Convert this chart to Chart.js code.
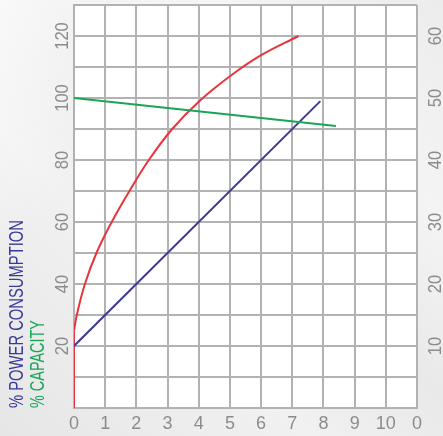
<!DOCTYPE html>
<html><head><meta charset="utf-8">
<script src="https://cdn.jsdelivr.net/npm/chart.js@4.4.0/dist/chart.umd.min.js"></script>
<style>
html,body{margin:0;padding:0;width:443px;height:436px;overflow:hidden;}
body{background:
 linear-gradient(135deg, rgba(255,255,255,0.7) 0%, rgba(255,255,255,0) 30%),
 linear-gradient(45deg, #e6e6e6 0%, #f1f1f1 35%, #e9e9e9 55%, #f4f4f4 75%, #ececec 100%);}
#wrap{position:relative;width:443px;height:436px;}
</style></head><body><div id="wrap"><canvas id="c" width="443" height="436"></canvas></div>
<script>
const xTickLabels = ['0','1','2','3','4','5','6','7','8','9','10','0'];
const leftTickValues = [20,40,60,80,100,120];
const rightTickValues = [10,20,30,40,50,60];

const redStubX = [0, 0];
const redStubY = [0, 25];
const redX = [0, 0.09, 0.35, 0.72, 1.21, 1.78, 2.4, 3.15, 4, 5, 6, 7.2];
const redY = [25, 30, 40, 50, 60, 70, 80, 90, 98.8, 107, 113.8, 120];
const blueX = [0, 7.9];
const blueY = [20, 99];
const greenX = [0, 8.4];
const greenY = [100, 91];

const titlePower = '% POWER CONSUMPTION';
const titleCapacity = '% CAPACITY';

const pts = (xs, ys) => xs.map((x, i) => ({x, y: ys[i]}));
const GRID = '#b2b2b2';
const TICK = '#8c8c8c';
const RED = '#e8343c', BLUE = '#3b3a97', GREEN = '#17a657';

const bgPlugin = {
  id: 'plotBg',
  beforeDraw(chart) {
    const {ctx, chartArea: a} = chart;
    ctx.save(); ctx.fillStyle = '#ffffff';
    ctx.fillRect(a.left, a.top, a.right - a.left, a.bottom - a.top);
    ctx.restore();
  }
};

function rotText(ctx, text, x, y, align, scaleX) {
  ctx.save();
  ctx.translate(x, y);
  ctx.rotate(-Math.PI / 2);
  ctx.scale(scaleX, 1);
  ctx.textAlign = align;
  ctx.textBaseline = 'middle';
  ctx.fillText(text, 0, 0);
  ctx.restore();
}

const labelPlugin = {
  id: 'labels',
  afterDraw(chart) {
    const {ctx} = chart;
    const y = chart.scales.y, y2 = chart.scales.y2;
    ctx.save();
    ctx.fillStyle = TICK;
    ctx.font = '18px "Liberation Sans", Arial, sans-serif';
    leftTickValues.forEach(v => rotText(ctx, String(v), 63, y.getPixelForValue(v), 'center', 0.92));
    rightTickValues.forEach(v => rotText(ctx, String(v), 436, y2.getPixelForValue(v), 'center', 0.92));
    ctx.font = '20px "Liberation Sans", Arial, sans-serif';
    const bottom = chart.chartArea.bottom;
    ctx.fillStyle = BLUE;
    let w = ctx.measureText(titlePower).width;
    rotText(ctx, titlePower, 17, bottom, 'left', 188 / w);
    ctx.fillStyle = GREEN;
    w = ctx.measureText(titleCapacity).width;
    rotText(ctx, titleCapacity, 38, bottom, 'left', 88 / w);
    ctx.restore();
  }
};

const lineDs = (data, color) => ({
  data, borderColor: color, borderWidth: 2, pointRadius: 0, fill: false,
  showLine: true, yAxisID: 'y'
});

new Chart(document.getElementById('c'), {
  type: 'line',
  data: {
    datasets: [
      lineDs(pts(greenX, greenY), GREEN),
      lineDs(pts(blueX, blueY), BLUE),
      lineDs(pts(redStubX, redStubY), RED),
      Object.assign(lineDs(pts(redX, redY), RED), {tension: 0.4})
    ]
  },
  options: {
    responsive: false,
    animation: false,
    layout: {padding: {top: 5, left: 0, right: 0, bottom: 0}},
    plugins: {legend: {display: false}, tooltip: {enabled: false}},
    scales: {
      x: {
        type: 'linear', min: 0, max: 11,
        ticks: {stepSize: 1, color: TICK, padding: 5,
          font: {size: 18, family: '"Liberation Sans", Arial, sans-serif'},
          callback: v => xTickLabels[v] ?? ''},
        grid: {color: GRID, lineWidth: 2, drawTicks: false},
        border: {color: GRID, width: 2},
        afterFit: s => { s.height = 28; }
      },
      y: {
        type: 'linear', position: 'left', min: 0, max: 130,
        ticks: {stepSize: 10, display: false},
        grid: {color: GRID, lineWidth: 2, drawTicks: false},
        border: {color: GRID, width: 2},
        afterFit: s => { s.width = 74; }
      },
      y2: {
        type: 'linear', position: 'right', min: 0, max: 65,
        ticks: {stepSize: 10, display: false},
        grid: {display: false, drawTicks: false},
        border: {display: false},
        afterFit: s => { s.width = 26; }
      }
    }
  },
  plugins: [bgPlugin, labelPlugin]
});
</script></body></html>
